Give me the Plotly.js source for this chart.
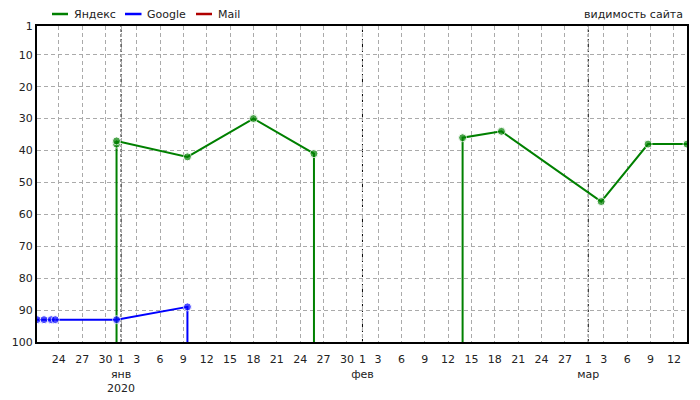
<!DOCTYPE html>
<html>
<head>
<meta charset="utf-8">
<script src="https://cdn.plot.ly/plotly-3.0.1.min.js"></script>
<style>html,body{margin:0;padding:0;background:#fff;}#chart{width:700px;height:400px;}</style>
</head>
<body>
<div id="chart"></div>
<script>
// Position 100 means "outside top 100" (drawn on the bottom edge, no marker)
const yandexDates = ['2019-12-31 10:00','2019-12-31 10:00','2019-12-31 10:00','2020-01-09 12:30','2020-01-18 00:00','2020-01-25 18:30','2020-01-25 18:30','2020-02-13 20:40','2020-02-13 20:40','2020-02-18 20:25','2020-03-02 15:50','2020-03-08 16:20','2020-03-13 16:20'];
const yandexPos   = [100, 38, 37, 42, 30, 41, 100, 100, 36, 34, 56, 38, 38];

const googleDates = ['2019-12-21 04:50','2019-12-22 02:25','2019-12-23 00:45','2019-12-23 13:10','2019-12-31 10:00','2020-01-09 12:30','2020-01-09 12:30'];
const googlePos   = [93, 93, 93, 93, 93, 89, 100];

const mailDates = [];
const mailPos   = [];

const seriesNames  = ['Яндекс','Google','Mail'];
const seriesColors = ['#008000','#0000ff','#b00000'];

const tickDates  = ['2019-12-24','2019-12-27','2019-12-30','2020-01-01','2020-01-03','2020-01-06','2020-01-09','2020-01-12','2020-01-15','2020-01-18','2020-01-21','2020-01-24','2020-01-27','2020-01-30','2020-02-01','2020-02-03','2020-02-06','2020-02-09','2020-02-12','2020-02-15','2020-02-18','2020-02-21','2020-02-24','2020-02-27','2020-03-01','2020-03-03','2020-03-06','2020-03-09','2020-03-12'];
const tickLabels = ['24','27','30','1<br>янв<br>2020','3','6','9','12','15','18','21','24','27','30','1<br>фев','3','6','9','12','15','18','21','24','27','1<br>мар','3','6','9','12'];
const monthStarts = ['2020-01-01','2020-02-01','2020-03-01'];
const posTicks = [1,10,20,30,40,50,60,70,80,90,100];
const xRange = ['2019-12-21 04:50','2020-03-13 16:20'];

const OUT = 100;
function build(dates, pos) {
  const x = [], y = [], s = [];
  for (let i = 0; i < dates.length; i++) {
    if (i > 0 && pos[i] === OUT && pos[i-1] === OUT) { x.push(null); y.push(null); s.push(0); }
    x.push(dates[i]); y.push(pos[i]); s.push(pos[i] === OUT ? 0 : 8);
  }
  return {x, y, s};
}
const data = [[yandexDates, yandexPos], [googleDates, googlePos], [mailDates, mailPos]];

const traces = data.map((d, i) => {
  const b = build(d[0], d[1]);
  return {name:seriesNames[i], x:b.x.length ? b.x : [null], y:b.y.length ? b.y : [null],
    type:'scatter', mode:'lines+markers', connectgaps:false, showlegend:false,
    line:{color:seriesColors[i], width:2}, marker:{color:seriesColors[i], size:b.s.length ? b.s : 8}};
});

// plot-area geometry (px) for placing the header legend
const W = 700, H = 400, M = {l:37, r:13, t:26, b:58};
const pw = W - M.l - M.r, ph = H - M.t - M.b;
const px = v => (v - M.l) / pw;
const legY = 1 + (M.t - 14) / ph;
const legLineX = [[52, 68], [125, 141.5], [196, 212]];
const legTextX = [72, 145, 216];

const shapes = [];
monthStarts.forEach(d => {
  shapes.push({type:'line', xref:'x', yref:'paper', x0:d, x1:d, y0:0, y1:1,
    line:{color:'#fff', width:1}, layer:'between'});
  shapes.push({type:'line', xref:'x', yref:'paper', x0:d, x1:d, y0:0, y1:1,
    line:{color:'#000', width:1, dash:'3px,2px'}, layer:'between'});
});
seriesNames.forEach((n, i) => {
  shapes.push({type:'line', xref:'paper', yref:'paper', x0:px(legLineX[i][0]), x1:px(legLineX[i][1]),
    y0:legY, y1:legY, line:{color:seriesColors[i], width:2.5}, layer:'above'});
});

const annotations = seriesNames.map((n, i) => ({
  text:n, xref:'paper', yref:'paper', x:px(legTextX[i]), y:legY, xanchor:'left', yanchor:'middle',
  showarrow:false, font:{size:11, color:'#222'}
}));
annotations.push({text:'видимость сайта', xref:'paper', yref:'paper', x:1, y:legY,
  xanchor:'right', yanchor:'middle', xshift:-2, showarrow:false, font:{size:11, color:'#222'}});

const layout = {
  width:W, height:H,
  margin:{l:M.l, r:M.r, t:M.t, b:M.b, autoexpand:false},
  paper_bgcolor:'#fff', plot_bgcolor:'#fff',
  font:{family:'DejaVu Sans, Verdana, sans-serif', size:11, color:'#222'},
  showlegend:false,
  xaxis:{type:'date', range:xRange, tickmode:'array', tickvals:tickDates, ticktext:tickLabels,
         showgrid:true, gridcolor:'#aaa', griddash:'4px,3px', gridwidth:1,
         showline:true, mirror:true, linecolor:'#000', linewidth:2, ticks:'', zeroline:false,
         tickangle:0, ticklabelstandoff:6, tickfont:{size:11, color:'#222'}},
  yaxis:{range:[100,1], tickmode:'array', tickvals:posTicks,
         showgrid:true, gridcolor:'#aaa', griddash:'4px,3px', gridwidth:1,
         showline:true, mirror:true, linecolor:'#000', linewidth:2, ticks:'', zeroline:false,
         tickfont:{size:11, color:'#222'}},
  shapes:shapes,
  annotations:annotations
};

Plotly.newPlot('chart', traces, layout, {displayModeBar:false, staticPlot:true});
</script>
</body>
</html>
